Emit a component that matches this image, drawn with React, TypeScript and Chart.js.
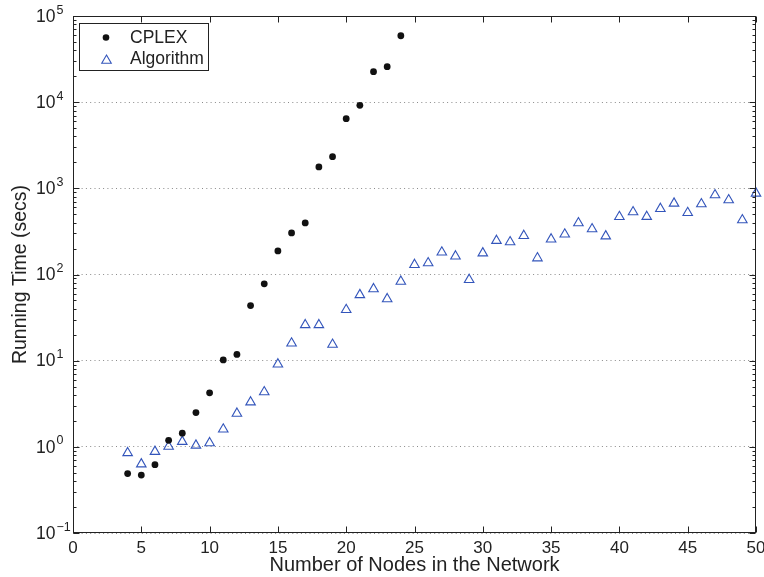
import React, { useEffect, useRef } from 'react';
import { Chart, registerables } from 'chart.js';

Chart.register(...registerables);

const nodesCplex = [4, 5, 6, 7, 8, 9, 10, 11, 12, 13, 14, 15, 16, 17, 18, 19, 20, 21, 22, 23, 24];
const cplexTimes = [0.49, 0.47, 0.62, 1.19, 1.44, 2.5, 4.23, 10.2, 11.8, 43.6, 78, 188, 304, 397, 1772, 2333, 6440, 9180, 22600, 25800, 59000];

const nodesAlgo = [4, 5, 6, 7, 8, 9, 10, 11, 12, 13, 14, 15, 16, 17, 18, 19, 20, 21, 22, 23, 24, 25, 26, 27, 28, 29, 30, 31, 32, 33, 34, 35, 36, 37, 38, 39, 40, 41, 42, 43, 44, 45, 46, 47, 48, 49, 50];
const algoTimes = [0.85, 0.63, 0.88, 1.01, 1.15, 1.04, 1.11, 1.6, 2.44, 3.3, 4.33, 9.1, 15.9, 26, 26, 15.4, 39, 58, 68, 52, 83, 130, 136, 181, 163, 87, 177, 247, 238, 282, 155, 257, 293, 396, 337, 279, 468, 531, 469, 580, 669, 521, 658, 837, 731, 429, 874];

const xTickValues = [0, 5, 10, 15, 20, 25, 30, 35, 40, 45, 50];
const yDecadeExponents = [-1, 0, 1, 2, 3, 4, 5];
const legendLabels = ['CPLEX', 'Algorithm'];
const xTitle = 'Number of Nodes in the Network';
const yTitle = 'Running Time (secs)';

const FONT = '"Liberation Sans", Arial, Helvetica, sans-serif';
const TEXT = '#222';
const BLUE = '#3355bb';
const DOT = '#111';

function isDecade(v: number) {
  const l = Math.log10(v);
  return Math.abs(l - Math.round(l)) < 1e-6;
}

const matlabPlugin = {
  id: 'matlabAxes',
  afterDraw(chart: any) {
    const { ctx, scales } = chart;
    const xs = scales.x;
    const ys = scales.y;
    const L = Math.round(xs.getPixelForValue(0)) + 0.5;
    const R = Math.round(xs.getPixelForValue(50)) - 0.5;
    const T = Math.round(ys.getPixelForValue(1e5)) + 0.5;
    const B = Math.round(ys.getPixelForValue(0.1)) - 0.5;
    ctx.save();
    ctx.strokeStyle = '#222';
    ctx.lineWidth = 1;
    ctx.setLineDash([]);
    const line = (x1: number, y1: number, x2: number, y2: number) => {
      ctx.beginPath();
      ctx.moveTo(x1, y1);
      ctx.lineTo(x2, y2);
      ctx.stroke();
    };
    ctx.strokeRect(L, T, R - L, B - T);
    xTickValues.forEach((v) => {
      const px = Math.round(xs.getPixelForValue(v)) + 0.5;
      line(px, B, px, B - 6);
      line(px, T, px, T + 6);
    });
    yDecadeExponents.forEach((e) => {
      for (let m = 1; m <= 9; m++) {
        const v = m * Math.pow(10, e);
        if (v > 1e5 * 1.0001) break;
        const py = Math.round(ys.getPixelForValue(v)) + 0.5;
        const len = m === 1 ? 6 : 3;
        line(L, py, L + len, py);
        line(R, py, R - len, py);
      }
    });
    ctx.fillStyle = TEXT;
    yDecadeExponents.forEach((e) => {
      const py = ys.getPixelForValue(Math.pow(10, e));
      ctx.font = `17.5px ${FONT}`;
      ctx.textAlign = 'right';
      ctx.textBaseline = 'middle';
      ctx.fillText('10', 55.5, py + 1);
      ctx.font = `12.5px ${FONT}`;
      ctx.textAlign = 'left';
      ctx.textBaseline = 'alphabetic';
      ctx.fillText(e < 0 ? '\u2212' + String(-e) : String(e), 56.5, py - 2.5);
    });
    const lx = 79.5, ly = 23.5, lw = 129, lh = 47;
    ctx.fillStyle = '#fff';
    ctx.fillRect(lx, ly, lw, lh);
    ctx.strokeStyle = '#222';
    ctx.strokeRect(lx, ly, lw, lh);
    ctx.fillStyle = DOT;
    ctx.beginPath();
    ctx.arc(106, 37.5, 3.3, 0, Math.PI * 2);
    ctx.fill();
    const r = 5.5, tx = 106.5, ty = 60.5;
    ctx.strokeStyle = BLUE;
    ctx.lineWidth = 1.1;
    ctx.beginPath();
    ctx.moveTo(tx, ty - r);
    ctx.lineTo(tx + r * Math.sin((2 * Math.PI) / 3), ty + 0.5 * r);
    ctx.lineTo(tx - r * Math.sin((2 * Math.PI) / 3), ty + 0.5 * r);
    ctx.closePath();
    ctx.stroke();
    ctx.fillStyle = TEXT;
    ctx.font = `17.5px ${FONT}`;
    ctx.textAlign = 'left';
    ctx.textBaseline = 'middle';
    ctx.fillText(legendLabels[0], 130, 38);
    ctx.fillText(legendLabels[1], 130, 59.5);
    ctx.restore();
  },
};

export default function App() {
  const canvasRef = useRef<HTMLCanvasElement | null>(null);

  useEffect(() => {
    const canvas = canvasRef.current;
    if (!canvas) return;
    const chart = new Chart(canvas, {
      type: 'scatter',
      data: {
        datasets: [
          {
            label: legendLabels[0],
            data: nodesCplex.map((x, i) => ({ x, y: cplexTimes[i] })),
            pointStyle: 'circle',
            pointRadius: 3.4,
            pointBackgroundColor: DOT,
            pointBorderWidth: 0,
            pointBorderColor: DOT,
            clip: false,
          } as any,
          {
            label: legendLabels[1],
            data: nodesAlgo.map((x, i) => ({ x, y: algoTimes[i] })),
            pointStyle: 'triangle',
            pointRadius: 5.5,
            pointBackgroundColor: 'rgba(0,0,0,0)',
            pointBorderColor: BLUE,
            pointBorderWidth: 1.1,
            clip: false,
          } as any,
        ],
      },
      options: {
        responsive: false,
        devicePixelRatio: 1,
        animation: false,
        events: [],
        layout: { padding: { left: 0, top: 16, right: 8, bottom: 0 } },
        plugins: {
          legend: { display: false },
          tooltip: { enabled: false },
        },
        scales: {
          x: {
            type: 'linear',
            min: 0,
            max: 50,
            afterBuildTicks: (s: any) => {
              s.ticks = xTickValues.map((v) => ({ value: v }));
            },
            afterFit: (s: any) => {
              s.height = 44;
              s.paddingLeft = 0;
              s.paddingRight = 0;
            },
            ticks: {
              autoSkip: false,
              maxRotation: 0,
              padding: 5,
              color: TEXT,
              font: { family: FONT, size: 17 },
            },
            grid: { display: false, drawTicks: false },
            border: { display: false },
            title: {
              display: true,
              text: xTitle,
              color: TEXT,
              font: { family: FONT, size: 20 },
              padding: { top: 0, bottom: 0 },
            },
          },
          y: {
            type: 'logarithmic',
            min: 0.1,
            max: 1e5,
            afterBuildTicks: (s: any) => {
              s.ticks = yDecadeExponents.map((e) => ({ value: Math.pow(10, e), major: true }));
            },
            afterFit: (s: any) => {
              s.width = 73;
              s.paddingTop = 0;
              s.paddingBottom = 0;
            },
            ticks: { display: false },
            grid: {
              drawTicks: false,
              color: (c: any) => (c.tick && isDecade(c.tick.value) ? '#8a8a8a' : 'rgba(0,0,0,0)'),
              lineWidth: 1,
            },
            border: { display: false, dash: [1, 3.3] },
            title: {
              display: true,
              text: yTitle,
              color: TEXT,
              font: { family: FONT, size: 19.5 },
              padding: { top: 9, bottom: 0 },
            },
          },
        },
      } as any,
      plugins: [matlabPlugin],
    });
    return () => chart.destroy();
  }, []);

  return (
    <div style={{ position: 'fixed', left: 0, top: 0, width: 764, height: 577, background: '#fff' }}>
      <canvas ref={canvasRef} width={764} height={577} style={{ display: 'block' }} />
    </div>
  );
}
